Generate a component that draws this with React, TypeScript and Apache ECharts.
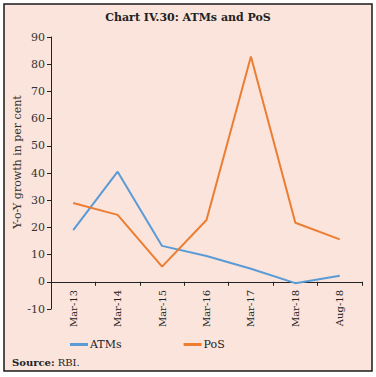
import React, { useEffect, useRef } from "react";
import * as echarts from "echarts";

const categories = ["Mar-13", "Mar-14", "Mar-15", "Mar-16", "Mar-17", "Mar-18", "Aug-18"];
const atms = [19.0, 40.5, 13.2, 9.5, 4.8, -0.5, 2.2];
const pos = [29.0, 24.6, 5.6, 22.7, 82.8, 21.7, 15.6];
const yTicks = { min: -10, max: 90, interval: 10 };

const SERIF = "'DejaVu Serif', 'Liberation Serif', serif";

export default function App() {
  const ref = useRef<HTMLDivElement>(null);
  useEffect(() => {
    if (!ref.current) return;
    const chart = echarts.init(ref.current, undefined, { renderer: "svg" });
    chart.setOption({
      animation: false,
      backgroundColor: "#ffffff",
      textStyle: { fontFamily: SERIF },
      graphic: [
        {
          type: "rect",
          z: -10,
          shape: { x: 4, y: 4, width: 368, height: 367 },
          style: { fill: "#FAE4DC", stroke: "#1a1a1a", lineWidth: 1.5 },
        },
        {
          type: "text",
          x: 188,
          y: 17,
          style: {
            text: "Chart IV.30: ATMs and PoS",
            align: "center",
            verticalAlign: "middle",
            font: `bold 11px ${SERIF}`,
            fill: "#222",
          },
        },
        {
          type: "text",
          x: 17,
          y: 162,
          rotation: Math.PI / 2,
          style: {
            text: "Y-o-Y growth in per cent",
            align: "center",
            verticalAlign: "middle",
            font: `11px ${SERIF}`,
            fill: "#333",
          },
        },
        {
          type: "text",
          x: 12,
          y: 362,
          style: {
            text: "{b|Source:} RBI.",
            verticalAlign: "middle",
            font: `10px ${SERIF}`,
            fill: "#222",
            rich: { b: { fontWeight: "bold", fontFamily: SERIF, fontSize: 10, fill: "#222" } },
          },
        },
      ],
      grid: { left: 51, right: 14, top: 37, bottom: 68, containLabel: false },
      legend: {
        left: 70,
        top: 339,
        padding: 0,
        itemGap: 62,
        itemWidth: 18,
        itemHeight: 3,
        icon: "rect",
        textStyle: { fontFamily: SERIF, fontSize: 11, color: "#222", padding: [0, 0, 0, -3] },
        data: ["ATMs", "PoS"],
      },
      xAxis: {
        type: "category",
        data: categories,
        boundaryGap: true,
        axisLine: { onZero: true, lineStyle: { color: "#222", width: 1 } },
        axisTick: { show: true, length: 4, lineStyle: { color: "#222" } },
        axisLabel: { rotate: 90, fontSize: 10, color: "#222", fontFamily: SERIF, margin: -19 },
      },
      yAxis: {
        type: "value",
        min: yTicks.min,
        max: yTicks.max,
        interval: yTicks.interval,
        splitLine: { show: false },
        axisLine: { show: true, lineStyle: { color: "#222", width: 1 } },
        axisTick: { show: true, length: 4, lineStyle: { color: "#222" } },
        axisLabel: { fontSize: 11, color: "#333", fontFamily: SERIF, margin: 6 },
      },
      series: [
        {
          name: "ATMs",
          type: "line",
          data: atms,
          symbol: "none",
          lineStyle: { color: "#5B9BD5", width: 2 },
          itemStyle: { color: "#5B9BD5" },
        },
        {
          name: "PoS",
          type: "line",
          data: pos,
          symbol: "none",
          lineStyle: { color: "#ED7D31", width: 2 },
          itemStyle: { color: "#ED7D31" },
        },
      ],
    });
    return () => chart.dispose();
  }, []);
  return (
    <div
      ref={ref}
      style={{ position: "absolute", left: 0, top: 0, width: 376, height: 377 }}
    />
  );
}
